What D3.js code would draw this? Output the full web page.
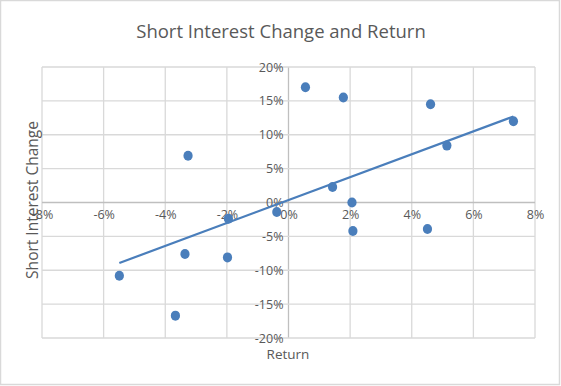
<!DOCTYPE html>
<html><head><meta charset="utf-8">
<script src="https://cdn.jsdelivr.net/npm/d3@7"></script>
<style>
html,body{margin:0;padding:0;background:#fff;}
svg{display:block;font-family:"Open Sans","Noto Sans",sans-serif;}
</style></head>
<body>
<svg id="c" width="561" height="386"></svg>
<script>
const returns = [-3.26, 0.55, -1.95, -0.38, 1.78, 4.61, 7.30, 5.14, 1.43, 2.06, 2.09, 4.51, -5.49, -3.36, -1.98, -3.67];
const siChange = [6.9, 17.0, -2.4, -1.4, 15.5, 14.5, 12.0, 8.4, 2.3, 0.0, -4.2, -3.9, -10.8, -7.6, -8.1, -16.7];
const xTicks = [-8, -6, -4, -2, 0, 2, 4, 6, 8];
const yTicks = [-20, -15, -10, -5, 0, 5, 10, 15, 20];
const title = "Short Interest Change and Return";
const xTitle = "Return";
const yTitle = "Short Interest Change";

const svg = d3.select("#c");
const W = 561, H = 386;
svg.append("rect").attr("x",0.5).attr("y",0.5).attr("width",W-2).attr("height",H-2)
  .attr("fill","#fff").attr("stroke","#d9d9d9").attr("stroke-width",1.5);

const x = d3.scaleLinear().domain([-8, 8]).range([42, 535]);
const y = d3.scaleLinear().domain([-20, 20]).range([338, 67]);
const fmt = d => d + "%";

// grid
const g = svg.append("g");
g.selectAll(".vg").data(xTicks).join("line")
  .attr("x1", d => x(d)).attr("x2", d => x(d)).attr("y1", y(-20)).attr("y2", y(20))
  .attr("stroke", d => d === 0 ? "#bfbfbf" : "#d9d9d9").attr("stroke-width", 1.3);
g.selectAll(".hg").data(yTicks).join("line")
  .attr("y1", d => y(d)).attr("y2", d => y(d)).attr("x1", x(-8)).attr("x2", x(8))
  .attr("stroke", d => d === 0 ? "#bfbfbf" : "#d9d9d9").attr("stroke-width", 1.3);

// axes at zero
const xAxis = d3.axisBottom(x).tickValues(xTicks).tickFormat(fmt).tickSize(0).tickPadding(8);
const yAxis = d3.axisLeft(y).tickValues(yTicks).tickFormat(fmt).tickSize(0).tickPadding(5);
const xa = svg.append("g").attr("transform", `translate(0,${y(0)})`).call(xAxis);
const ya = svg.append("g").attr("transform", `translate(${x(0)},0)`).call(yAxis);
[xa, ya].forEach(a => {
  a.select(".domain").remove();
  a.selectAll("text").attr("fill", "#595959").style("font-size", "12.5px")
    .style("font-family", "'Open Sans','Noto Sans',sans-serif");
});

// trendline (least squares)
const n = returns.length;
const mx = d3.mean(returns), my = d3.mean(siChange);
let sxy = 0, sxx = 0;
for (let i = 0; i < n; i++) { sxy += (returns[i]-mx)*(siChange[i]-my); sxx += (returns[i]-mx)**2; }
const slope = sxy / sxx, icpt = my - slope * mx;
const x0 = d3.min(returns), x1 = d3.max(returns);
svg.append("line")
  .attr("x1", x(x0)).attr("y1", y(icpt + slope * x0))
  .attr("x2", x(x1)).attr("y2", y(icpt + slope * x1))
  .attr("stroke", "#4a7ebb").attr("stroke-width", 2.2);

// points
svg.selectAll(".pt").data(returns.map((r, i) => [r, siChange[i]])).join("ellipse")
  .attr("cx", d => x(d[0])).attr("cy", d => y(d[1]))
  .attr("rx", 4.6).attr("ry", 5)
  .attr("fill", "#4a7ebb");

// titles
svg.append("text").attr("x", 281).attr("y", 38).attr("text-anchor", "middle")
  .attr("fill", "#595959").style("font-size", "18.5px").text(title);
svg.append("text").attr("x", 288).attr("y", 359).attr("text-anchor", "middle")
  .attr("fill", "#595959").style("font-size", "13.5px").text(xTitle);
svg.append("text").attr("transform", "translate(38,200) rotate(-90)").attr("text-anchor", "middle")
  .attr("fill", "#595959").style("font-size", "15.5px").text(yTitle);
</script>
</body></html>
